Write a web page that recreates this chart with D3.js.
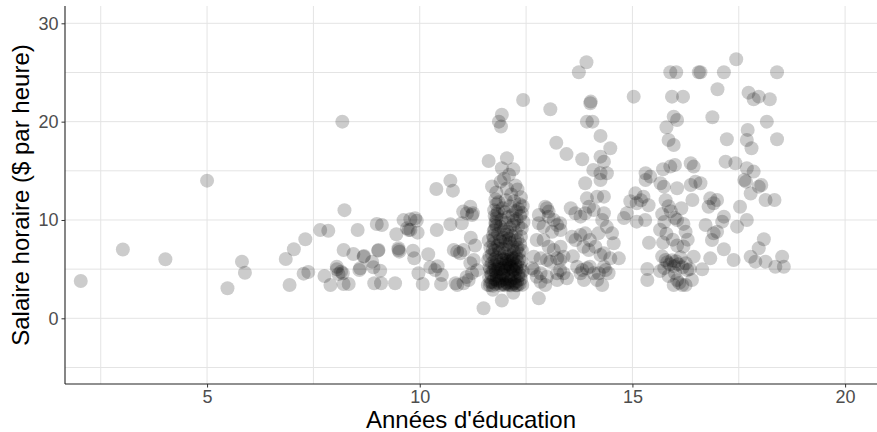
<!DOCTYPE html>
<meta charset="utf-8">
<style>
body { margin: 0; background: #fff; }
svg { display: block; font-family: 'Liberation Sans', Arial, sans-serif; }
.grid line { stroke: #e4e4e4; stroke-width: 1; }
.tick-label { fill: #4d4d4d; font-size: 18px; }
.axis-title { fill: #000; font-size: 24px; }
</style>
<body>
<script src="https://cdn.jsdelivr.net/npm/d3@7"></script>
<script>
// [annees d'education (jitter), salaire horaire]
var lowEduc = [[2.03,3.8],[3.02,7.0],[4.02,6.0],[5.0,14.0],[5.48,3.05],[5.82,5.76],[5.89,4.64],
  [6.85,6.03],[6.94,3.39],[7.04,7.02],[7.31,8.04],[7.27,4.54],[7.38,4.71],[7.66,8.98],[7.85,8.91],
  [7.76,4.3],[7.9,3.39],[8.05,4.98],[8.09,4.5],[8.19,4.58],[8.21,3.49],[8.33,3.49],[8.23,11.0],
  [8.18,20.0],[8.54,8.98],[8.21,6.95],[8.44,6.54],[8.05,5.25],[8.15,4.74],[8.58,4.91],[8.69,6.34],
  [8.88,5.76],[8.99,9.59],[9.11,9.49],[9.02,6.88],[9.07,4.84],[8.93,3.56],[9.09,3.56],[8.68,6.27],
  [8.6,5.09],[8.91,5.19],[9.03,6.95],[9.42,3.56],[9.45,8.55],[9.5,6.95],[9.62,9.99],[9.74,8.98],
  [9.5,7.12],[9.52,6.78],[9.78,10.07],[9.89,10.17],[9.93,9.93],[9.78,8.98],[9.95,8.71],[9.84,6.88],
  [9.87,6.1],[9.97,4.58],[10.07,3.49],[9.7,9.15]];

var educ10to11 = [[10.2,6.51],[10.25,5.19],[10.36,4.91],[10.52,4.4],[10.5,3.49],[10.4,8.98],
  [10.72,9.56],[10.39,13.15],[10.72,14.0],[10.78,12.98],[10.8,6.95],[10.95,6.61],[11.03,6.95],
  [10.88,3.39],[11.03,3.56],[11.15,3.9],[10.84,3.56],[10.99,9.66],[11.02,10.85],[11.19,11.35],
  [11.25,10.68],[11.11,10.68],[11.23,10.51],[11.19,5.6],[11.27,5.93],[10.88,6.78],[11.1,4.2],
  [11.23,4.6],[11.35,4.9],[11.5,1.02],[10.42,5.3],[11.3,7.4],[11.2,8.2]];

var educ12 = [[11.86,20.0],[11.93,20.7],[11.91,19.5],[12.43,22.2],[11.62,16.0],[12.05,16.27],
  [11.93,15.26],[12.2,15.16],[12.1,14.6],[11.98,14.2],[12.3,13.1],[11.7,13.4],[12.25,13.5],
  [11.8,12.8],[12.15,12.6],[12.38,12.3],[11.78,12.1],[11.9,13.9],[12.05,13.2],[12.35,11.6],
  [11.8,11.6],[11.75,11.0],[11.85,11.8],[11.95,11.2],[12.02,12.0],[12.12,11.4],[12.22,11.9],
  [12.32,11.1],[12.4,10.7],[11.76,10.4],[11.8,10.2],[11.82,10.6],[11.92,10.0],[12.0,10.8],
  [12.08,10.3],[12.18,10.5],[12.28,10.1],[12.36,10.4],[11.84,10.9],[12.26,10.9],
  [11.78,9.6],[11.76,9.0],[11.78,9.8],[11.84,8.6],[11.9,9.3],[11.96,8.2],[12.02,9.7],[12.06,8.8],
  [12.12,9.2],[12.16,8.4],[12.22,9.9],[12.26,8.7],[12.32,9.4],[12.38,8.3],[11.72,8.4],[11.74,8.1],
  [11.88,8.0],[11.98,9.0],[12.1,8.1],[12.2,9.5],[12.3,8.0],[11.74,8.9],[12.4,9.1],[11.8,9.4],[12.04,8.5],
  [12.44,9.8],[12.42,11.4],
  [11.62,7.9],[11.66,7.2],[11.7,6.5],[11.73,7.6],[11.77,6.9],[11.8,6.2],[11.83,7.4],[11.87,6.7],
  [11.9,7.8],[11.93,6.1],[11.96,7.1],[12.0,6.6],[12.03,7.5],[12.06,6.3],[12.09,7.0],[12.12,7.7],
  [12.15,6.4],[12.18,7.3],[12.21,6.8],[12.24,7.9],[12.27,6.2],[12.3,7.2],[12.33,6.6],[12.36,7.5],
  [12.4,6.9],[11.64,6.3],[11.76,6.0],[11.98,6.0],[12.14,6.0],[12.28,7.0],[11.86,7.1],[12.02,7.9],
  [12.2,6.1],[11.72,7.0],[12.34,6.0],
  [11.61,5.9],[11.64,5.2],[11.67,4.6],[11.7,5.6],[11.73,4.9],[11.76,5.4],[11.79,4.7],[11.82,5.8],
  [11.85,5.0],[11.88,5.5],[11.91,4.6],[11.94,5.9],[11.97,5.1],[12.0,4.8],[12.03,5.6],[12.06,5.0],
  [12.09,5.8],[12.12,4.7],[12.15,5.3],[12.18,5.9],[12.21,4.9],[12.24,5.5],[12.27,5.0],[12.3,5.7],
  [12.33,4.6],[12.36,5.2],[12.39,5.8],[12.42,4.8],[11.66,5.0],[11.84,5.25],[11.92,5.0],[12.01,5.3],
  [12.1,5.5],[12.19,5.0],[12.28,5.3],[11.78,5.0],[12.05,5.95],[12.25,4.7],[11.96,4.55],[12.13,5.1],
  [11.6,3.4],[11.63,4.2],[11.66,3.7],[11.69,4.4],[11.72,3.3],[11.75,4.0],[11.78,3.5],[11.81,4.3],
  [11.84,3.6],[11.87,4.1],[11.9,3.35],[11.93,3.9],[11.96,4.4],[11.99,3.45],[12.02,4.0],[12.05,3.6],
  [12.08,4.3],[12.11,3.4],[12.14,3.9],[12.17,4.45],[12.2,3.5],[12.23,4.1],[12.26,3.35],[12.29,3.8],
  [12.32,4.3],[12.35,3.5],[12.38,4.0],[12.41,3.4],[11.7,3.7],[11.88,3.8],[12.0,3.35],[12.12,3.7],
  [12.24,3.6],[11.8,3.9],[11.95,3.5],[12.07,3.45],[12.3,3.35],[11.65,3.35],[12.16,3.35],[12.37,4.4],
  [11.93,1.8],[12.2,2.6],[11.72,2.9]];

var educ13 = [[12.8,10.51],[12.99,11.19],[13.03,10.34],[13.15,10.0],[13.23,9.49],[13.11,8.81],
  [13.31,8.98],[12.75,7.96],[12.91,7.96],[13.03,7.28],[13.15,6.95],[13.31,7.28],[12.68,6.27],
  [12.84,6.1],[12.99,5.93],[13.23,6.1],[13.38,6.27],[12.68,4.91],[12.84,4.58],[12.99,4.23],
  [13.23,3.9],[13.38,4.58],[13.46,4.07],[12.84,3.72],[12.95,3.39],[12.8,2.03],[12.95,11.35],
  [13.03,10.85],[13.3,9.66],[12.8,9.66],[12.91,9.32],[13.07,21.26],[13.21,17.86],[13.45,16.7],
  [13.07,5.76],[13.3,5.93],[12.64,5.09],[12.75,4.23],[13.23,4.58],[13.3,4.91]];

var educ14 = [[13.82,16.17],[13.92,26.04],[13.74,25.03],[14.02,22.04],[14.06,20.0],[14.25,18.55],
  [14.48,17.3],[14.25,16.44],[14.33,15.93],[14.08,15.09],[14.25,14.75],[14.4,14.75],[13.89,13.73],
  [14.25,14.07],[14.33,12.37],[13.93,12.2],[14.17,12.37],[13.55,11.19],[13.66,10.68],[13.78,10.34],
  [13.89,10.68],[13.98,11.35],[14.09,11.02],[14.29,10.0],[14.33,10.68],[13.58,8.3],[13.66,7.96],
  [13.78,8.47],[13.89,8.64],[14.0,7.96],[14.2,8.64],[14.52,8.64],[14.56,7.63],[13.85,7.28],
  [13.97,6.95],[14.13,7.28],[14.25,6.44],[14.33,6.61],[14.48,6.1],[14.68,6.1],[13.7,5.25],
  [13.78,4.58],[13.93,5.09],[14.0,5.25],[14.09,4.58],[14.17,3.9],[14.29,3.39],[14.37,4.91],
  [14.44,4.58],[13.82,4.91],[13.86,3.9],[14.33,5.25],[14.21,4.58],[13.93,20.0],[14.01,21.87],
  [13.6,6.3],[14.4,9.3]];

var educ15 = [[15.03,22.54],[15.31,14.75],[15.31,14.07],[15.42,14.41],[15.07,12.71],[15.26,12.37],
  [14.87,10.68],[15.1,9.83],[15.1,11.7],[15.39,7.69],[15.35,5.02],[15.35,3.9],[14.95,11.9],
  [15.3,10.0],[15.38,11.5],[15.2,12.0],[14.8,10.2]];

var educ16 = [[15.89,25.03],[16.03,25.03],[15.93,22.54],[16.19,22.54],[15.97,20.51],[16.05,20.17],
  [15.8,19.43],[15.85,18.14],[15.97,17.63],[15.89,15.43],[16.0,15.6],[15.72,15.16],[15.66,13.73],
  [15.74,13.39],[16.37,15.77],[16.44,15.43],[16.48,13.9],[16.37,13.56],[16.41,12.03],[16.6,13.73],
  [16.05,13.22],[15.78,12.0],[15.85,11.4],[15.9,10.9],[16.0,10.2],[16.05,10.0],[16.15,11.2],
  [15.7,10.6],[15.75,9.8],[16.2,9.6],[16.25,8.8],[16.3,8.0],[16.2,7.3],[15.8,8.6],[15.95,8.0],
  [16.05,7.4],[15.65,9.0],[15.7,6.3],[15.78,5.93],[15.82,5.7],[15.88,5.5],[15.93,5.9],[15.98,5.3],
  [16.02,5.8],[16.08,5.5],[16.13,6.2],[16.18,5.2],[16.25,5.6],[16.35,5.0],[15.75,5.1],[16.0,4.6],
  [16.44,6.27],[16.29,4.91],[16.17,3.39],[16.25,3.39],[15.97,3.39],[16.05,3.9],[16.1,3.6],
  [15.85,4.3],[15.65,4.8],[16.4,3.9],[15.72,7.7]];

var educ17to18 = [[16.56,25.03],[16.6,25.03],[17.15,25.03],[17.0,23.3],[16.88,20.44],[17.22,18.21],
  [17.19,15.93],[17.42,15.77],[16.83,12.2],[16.99,12.03],[16.91,11.7],[16.79,11.35],[17.15,10.34],
  [17.11,9.83],[16.72,9.49],[16.91,8.64],[16.87,7.96],[16.99,8.81],[17.15,7.02],[17.38,5.93],
  [16.83,6.1],[16.64,4.98],
  [17.44,26.35],[18.4,25.03],[17.73,22.95],[17.85,22.28],[17.97,22.54],[18.23,22.28],[18.16,20.0],
  [18.4,18.21],[17.71,19.16],[17.69,18.14],[17.8,17.3],[17.69,15.26],[17.85,14.92],[17.63,14.07],
  [17.67,13.9],[17.78,12.7],[17.97,13.39],[18.03,13.56],[18.13,12.03],[18.34,12.03],[17.53,11.35],
  [17.69,10.0],[17.46,9.32],[18.09,8.04],[17.97,7.12],[17.78,6.27],[17.89,5.76],[18.13,5.76],
  [18.52,6.27],[18.36,5.25],[18.56,5.25]];

var xMajor = [5, 10, 15, 20];
var xMinor = [2.5, 7.5, 12.5, 17.5];
var yMajor = [0, 10, 20, 30];
var yMinor = [-5, 5, 15, 25];

var points = [].concat(lowEduc, educ10to11, educ12, educ13, educ14, educ15, educ16, educ17to18);

var width = 877, height = 432;
var margin = {top: 6, right: 0, bottom: 48, left: 65};

var x = d3.scaleLinear().domain([1.66, 20.75]).range([margin.left, width - margin.right]);
var y = d3.scaleLinear().domain([-6.68, 31.76]).range([height - margin.bottom, margin.top]);

var svg = d3.select('body').append('svg')
    .attr('width', width)
    .attr('height', height);

var grid = svg.append('g').attr('class', 'grid');
grid.selectAll('.vx')
    .data(xMinor.concat(xMajor))
    .enter().append('line')
    .attr('x1', d => x(d)).attr('x2', d => x(d))
    .attr('y1', margin.top).attr('y2', height - margin.bottom);
grid.selectAll('.hy')
    .data(yMinor.concat(yMajor))
    .enter().append('line')
    .attr('y1', d => y(d)).attr('y2', d => y(d))
    .attr('x1', margin.left).attr('x2', width - margin.right);

svg.append('g')
    .selectAll('circle')
    .data(points)
    .enter().append('circle')
    .attr('cx', d => x(d[0]))
    .attr('cy', d => y(d[1]))
    .attr('r', 7)
    .attr('fill', 'rgba(0,0,0,0.2)');

// axes
var xAxis = svg.append('g')
    .attr('transform', 'translate(0,' + (height - margin.bottom) + ')')
    .call(d3.axisBottom(x).tickValues(xMajor).tickSize(3.5).tickPadding(3));
var yAxis = svg.append('g')
    .attr('transform', 'translate(' + margin.left + ',0)')
    .call(d3.axisLeft(y).tickValues(yMajor).tickSize(3.5).tickPadding(3));

[xAxis, yAxis].forEach(function(a) {
    a.select('.domain').attr('stroke', '#222').attr('stroke-width', 1.1);
    a.selectAll('.tick line').attr('stroke', '#333');
    a.selectAll('.tick text').attr('class', 'tick-label').attr('font-family', null).attr('font-size', null);
});
xAxis.select('.domain').attr('d', 'M' + margin.left + ',0H' + (width - margin.right));
yAxis.select('.domain').attr('d', 'M0,' + margin.top + 'V' + (height - margin.bottom));

svg.append('text')
    .attr('class', 'axis-title')
    .attr('x', (margin.left + width - margin.right) / 2)
    .attr('y', 428)
    .attr('text-anchor', 'middle')
    .text("Années d'éducation");

svg.append('text')
    .attr('class', 'axis-title')
    .attr('transform', 'translate(29,' + ((margin.top + height - margin.bottom) / 2) + ') rotate(-90)')
    .attr('text-anchor', 'middle')
    .text('Salaire horaire ($ par heure)');
</script>
</body>
